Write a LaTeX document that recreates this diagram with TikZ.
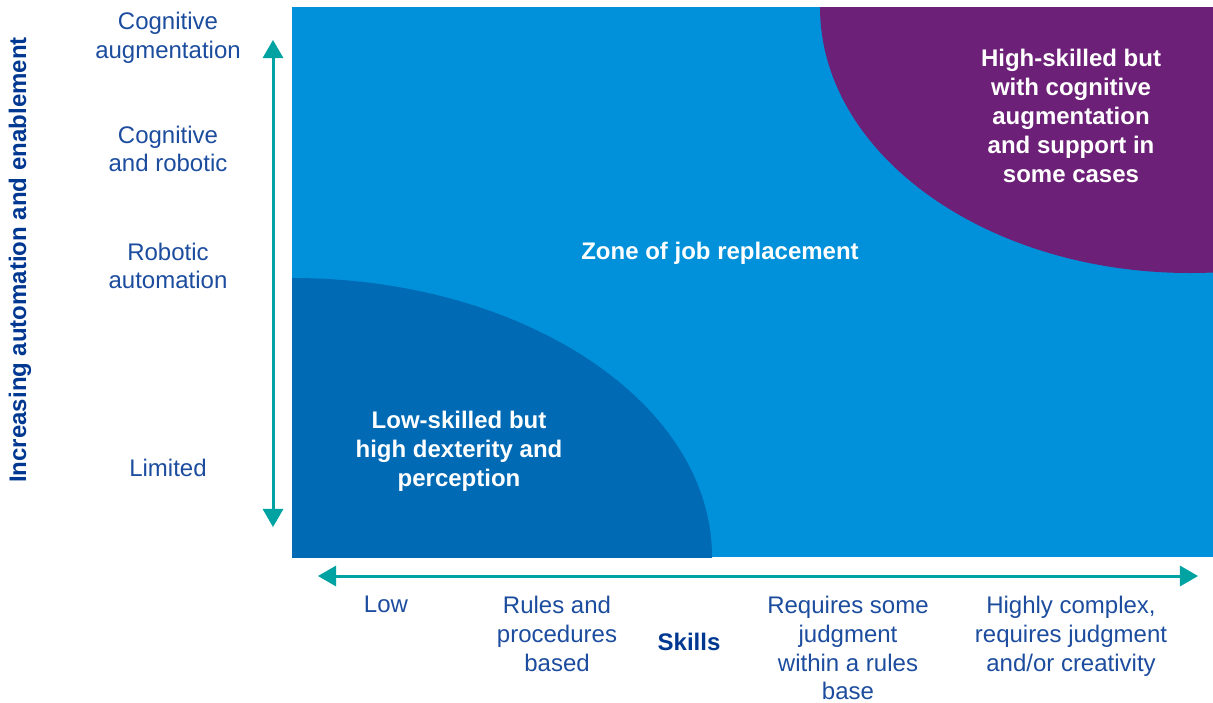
\documentclass[tikz,border=0pt]{standalone}
\usepackage{fontspec}
\setmainfont{Liberation Sans}
\usepackage{xcolor}
\usetikzlibrary{arrows}

\definecolor{zoneblue}{RGB}{0,145,218}
\definecolor{lowblue}{RGB}{0,106,180}
\definecolor{highpurple}{RGB}{109,32,119}
\definecolor{axisteal}{RGB}{0,163,161}
\definecolor{titleblue}{RGB}{0,56,145}
\definecolor{labelblue}{RGB}{28,76,158}

\begin{document}
\begin{tikzpicture}[x=0.5pt,y=-0.5pt,>=triangle 60,
  axis/.style={draw=axisteal,line width=1.5pt,<->},
  lab/.style={text=labelblue,align=center,inner sep=0pt,font=\fontsize{12}{14.3}\selectfont},
  zonelab/.style={text=white,align=center,inner sep=0pt,font=\bfseries\fontsize{12}{14.5}\selectfont}]
\useasboundingbox (0,0) rectangle (1213,702);

% zones
\fill[zoneblue] (292,7) rectangle (1213,557);
\begin{scope}
\clip (292,7) rectangle (1213,557);
\fill[lowblue] (292,557) ellipse [x radius=420, y radius=279];
\fill[highpurple] (1190,7) ellipse [x radius=370, y radius=266];
\end{scope}

\node[zonelab] (lowzone) at (459,451) {Low-skilled but\\high dexterity and\\perception};
\node[zonelab] (replace) at (720,253) {Zone of job replacement};
\node[zonelab] (highzone) at (1071,116) {High-skilled but\\with cognitive\\augmentation\\and support in\\some cases};

% vertical axis
\node[rotate=90,text=titleblue,font=\bfseries\fontsize{12}{14.5}\selectfont] (vtitle) at (20,260) {Increasing automation and enablement};
\node[lab] (cogaug) at (168,38) {Cognitive\\augmentation};
\node[lab] (cogrob) at (168,149) {Cognitive\\and robotic};
\node[lab] (robaut) at (168,266) {Robotic\\automation};
\node[lab] (limited) at (168,468) {Limited};
\coordinate (vtop) at (273,40);
\coordinate (vbot) at (273,527);
\draw[axis] (vtop) -- (vbot);

% horizontal axis
\coordinate (hleft) at (318,576);
\coordinate (hright) at (1198,576);
\draw[axis] (hleft) -- (hright);
\node[lab,anchor=north] (low) at (386,596) {Low};
\node[lab,anchor=north] (rules) at (557,596) {Rules and\\procedures\\based};
\node[text=titleblue,font=\bfseries\fontsize{12}{14.5}\selectfont] (skills) at (689,642) {Skills};
\node[lab,anchor=north] (judge) at (848,596) {Requires some\\judgment\\within a rules\\base};
\node[lab,anchor=north] (complex) at (1071,596) {Highly complex,\\requires judgment\\and/or creativity};
\end{tikzpicture}
\end{document}
